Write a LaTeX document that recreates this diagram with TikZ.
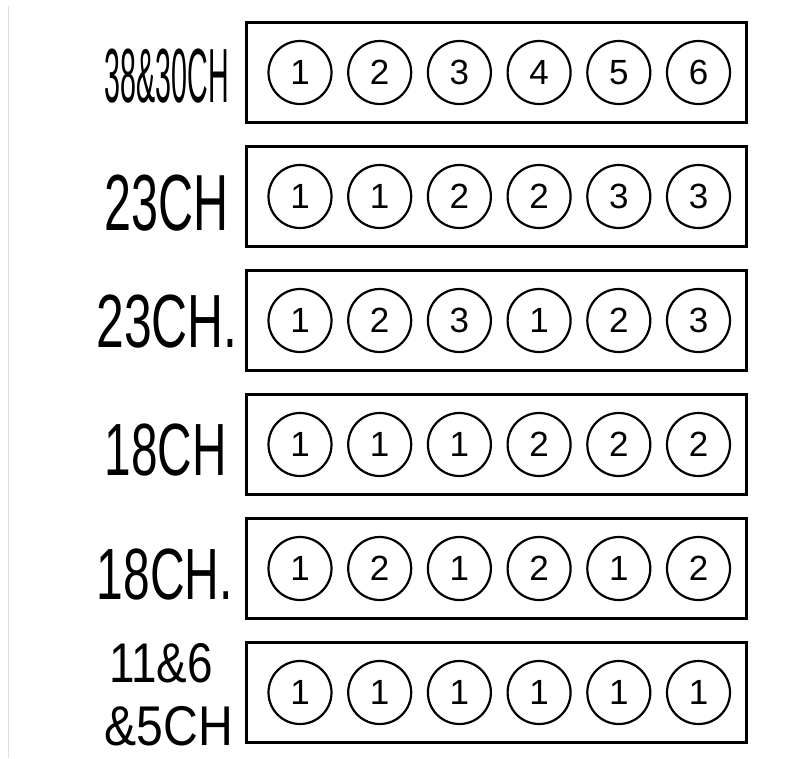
\documentclass[tikz,border=0pt]{standalone}
\usepackage{fontspec}
\setmainfont{Liberation Sans}
\begin{document}
\begin{tikzpicture}[x=1pt,y=-1pt,
  panel/.style={draw, line width=3pt, minimum width=500.5pt, minimum height=100pt, inner sep=0pt},
  port/.style={draw, circle, line width=2.2pt, minimum size=63pt, inner sep=0pt, font=\fontsize{35}{35}\selectfont},
  lbl/.style={inner sep=0pt, anchor=base east, text depth=0pt}]
\useasboundingbox (0,0) rectangle (811,758);
\draw[gray!25, line width=1pt] (8,6) -- (8,758);
\foreach \r/\ds in {0/{1,2,3,4,5,6}, 1/{1,1,2,2,3,3}, 2/{1,2,3,1,2,3}, 3/{1,1,1,2,2,2}, 4/{1,2,1,2,1,2}, 5/{1,1,1,1,1,1}} {
  \node[panel] (box\r) at (496.25, 72.5+124*\r) {};
  \foreach \v [count=\i from 0] in \ds {
    \node[port] (c\r-\i) at (300+79.7*\i, 72.5+124*\r) {\v};
  }
}
\node[lbl] (l0) at (229,102) {\fontsize{76.8}{76.8}\selectfont\scalebox{0.373}[1]{38\&30CH}};
\node[lbl] (l1) at (229,230) {\fontsize{79.6}{79.6}\selectfont\scalebox{0.609}[1]{23CH}};
\node[lbl] (l2) at (238,347) {\fontsize{75.4}{75.4}\selectfont\scalebox{0.661}[1]{23CH.}};
\node[lbl] (l3) at (227,475) {\fontsize{74}{74}\selectfont\scalebox{0.645}[1]{18CH}};
\node[lbl] (l4) at (233,599) {\fontsize{72.6}{72.6}\selectfont\scalebox{0.661}[1]{18CH.}};
\node[lbl] (l5a) at (213,682) {\fontsize{55.9}{55.9}\selectfont\scalebox{0.82}[1]{11\&6}};
\node[lbl] (l5b) at (233,745) {\fontsize{56}{56}\selectfont\scalebox{0.86}[1]{\&5CH}};
\end{tikzpicture}
\end{document}
